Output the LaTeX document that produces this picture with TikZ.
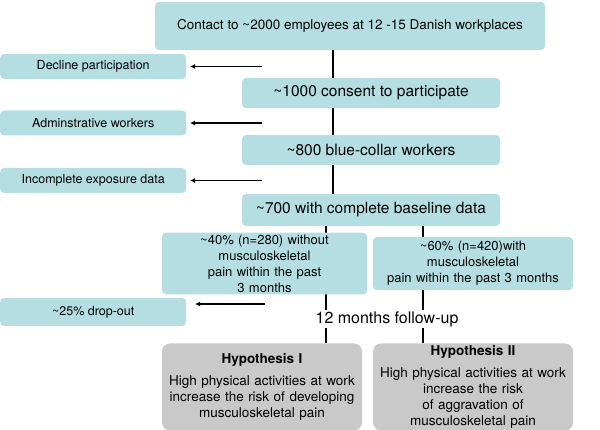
\documentclass[tikz,border=0pt]{standalone}
\usepackage{fontspec}
\setmainfont{TeX Gyre Heros}
\usetikzlibrary{arrows.meta}
\definecolor{tealbox}{HTML}{B5DEE2}
\definecolor{graybox}{HTML}{C9C9C9}
\begin{document}
\begin{tikzpicture}[x=1pt,y=-1pt,
  box/.style={fill=tealbox,rounded corners=4pt,inner sep=2pt,align=center},
  hbox/.style={fill=graybox,rounded corners=8pt,align=center,inner sep=2pt},
  trunk/.style={line width=2.4pt},
  arr/.style={line width=1.6pt,-{Latex[length=5pt,width=5pt]}}]
\useasboundingbox (0,0) rectangle (600,430);
\hyphenpenalty=10000
\draw[trunk] (333,50) -- (333,225);
\draw[trunk] (326,225) -- (326,237);
\draw[trunk] (423,225) -- (423,237);
\draw[trunk] (326,290) -- (326,343);
\draw[trunk] (423,290) -- (423,343);
\node[box,minimum width=390,minimum height=48,font=\fontsize{13.5}{15}\selectfont] (top) at (350,26) {Contact to \textasciitilde2000 employees at 12 -15 Danish workplaces};
\node[box,minimum width=258,minimum height=30,font=\fontsize{15.5}{17}\selectfont] (c1) at (371,93) {\textasciitilde1000 consent to participate};
\node[box,minimum width=258,minimum height=30,font=\fontsize{15.5}{17}\selectfont] (c2) at (371,150) {\textasciitilde800 blue-collar workers};
\node[box,minimum width=258,minimum height=32,font=\fontsize{15.5}{17}\selectfont] (c3) at (371,210) {\textasciitilde700 with complete baseline data};
\node[box,minimum width=186,minimum height=25,font=\fontsize{12.5}{14}\selectfont,anchor=west] (d1) at (0,66.5) {Decline participation};
\node[box,minimum width=186,minimum height=25,font=\fontsize{12.5}{14}\selectfont,anchor=west] (d2) at (0,123) {Adminstrative workers};
\node[box,minimum width=186,minimum height=25,font=\fontsize{12.5}{14}\selectfont,anchor=west] (d3) at (0,180.5) {Incomplete exposure data};
\node[box,minimum width=186,minimum height=28,font=\fontsize{12.5}{14}\selectfont,anchor=west] (d4) at (0,312) {\textasciitilde25\% drop-out};
\node[box,minimum width=205,minimum height=53,font=\fontsize{13}{16}\selectfont,text width=201] (p1) at (264.5,263.5) {\textasciitilde40\% (n=280) without\\musculoskeletal pain within the past\\3 months};
\node[box,minimum width=200,minimum height=53,font=\fontsize{13}{16}\selectfont,text width=196] (p2) at (473,263.5) {\textasciitilde60\% (n=420)with musculoskeletal\\pain within the past 3 months};
\node[hbox,minimum width=200,minimum height=87,font=\fontsize{13.5}{16}\selectfont,text width=194] (h1) at (262,387) {\textbf{Hypothesis I}\\[6pt]High physical activities at work\\increase the risk of developing\\musculoskeletal pain};
\node[hbox,minimum width=200,minimum height=87,font=\fontsize{13.5}{16}\selectfont,text width=194] (h2) at (473,387) {\textbf{Hypothesis II}\\[6pt]High physical activities at work\\increase the risk of aggravation of\\musculoskeletal pain};
\node[fill=white,inner sep=1pt,font=\fontsize{16}{18}\selectfont] (fu) at (387,319) {12 months follow-up};
\coordinate (a1) at (262,66.5);
\coordinate (a2) at (262,123);
\coordinate (a3) at (262,180.5);
\coordinate (a4) at (265,304);
\draw[arr] (a1) -- (190,66.5);
\draw[arr] (a2) -- (190,123);
\draw[arr] (a3) -- (190,180.5);
\draw[arr] (a4) -- (195,304);
\end{tikzpicture}
\end{document}
